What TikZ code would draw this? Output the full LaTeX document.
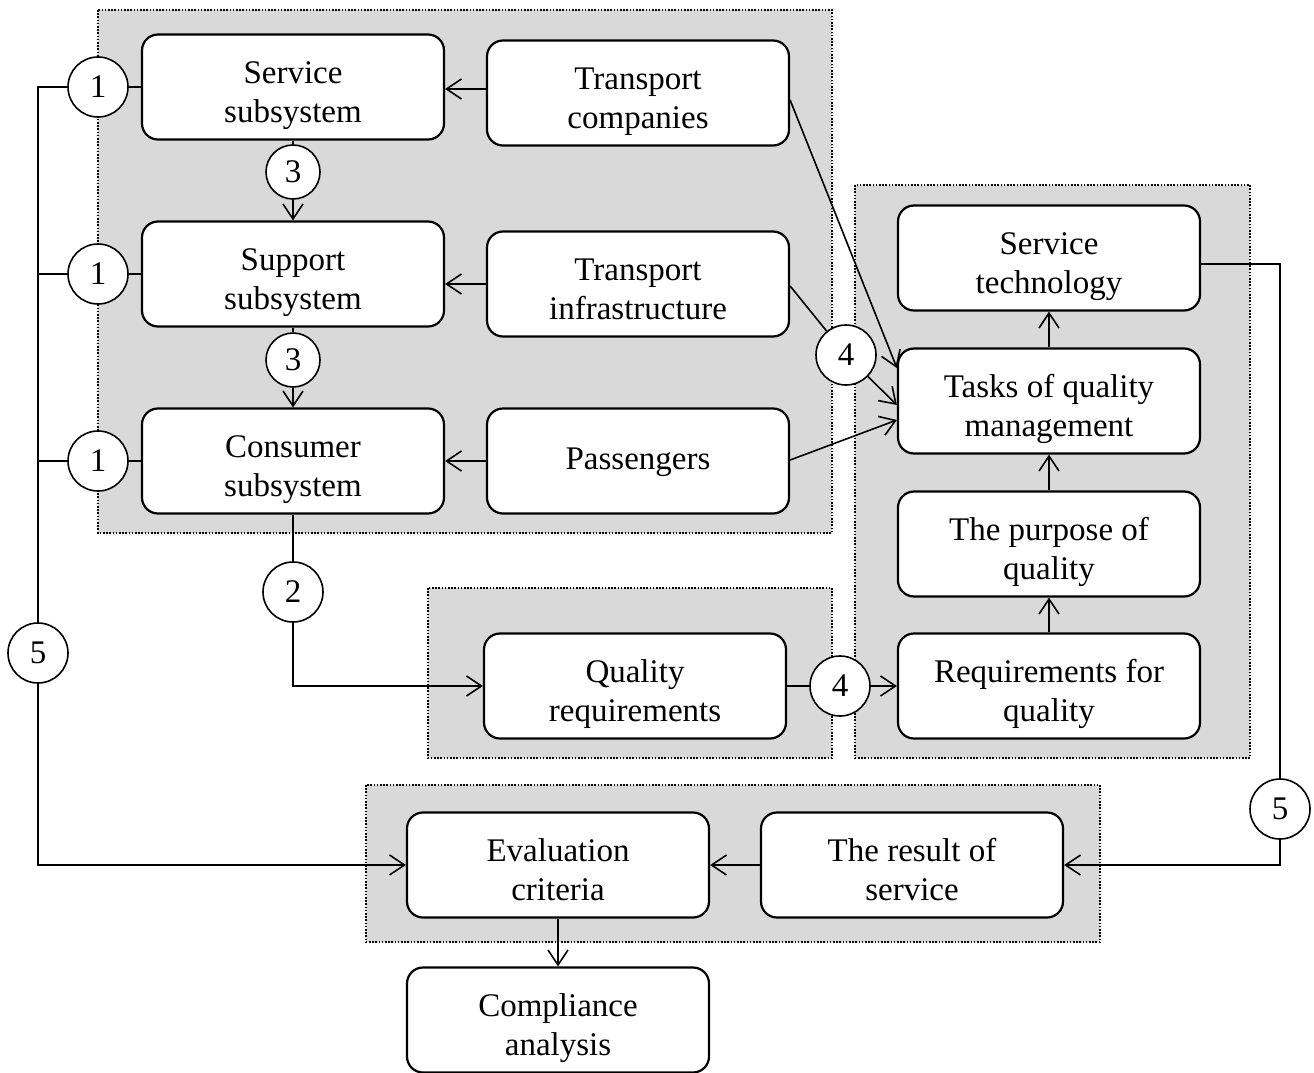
\documentclass[tikz,border=0pt]{standalone}
\usepackage{fontspec}
\setmainfont{Liberation Serif}
\usetikzlibrary{arrows.meta}
\definecolor{grp}{HTML}{D9D9D9}
\newcommand{\tw}[2]{\rule{0pt}{43pt}#1\\#2\rule[-12pt]{0pt}{12pt}}
\newcommand{\on}[1]{\rule[-6pt]{0pt}{30pt}#1}
\begin{document}
\begin{tikzpicture}[x=1pt,y=-1pt,
 grpbox/.style={fill=grp, draw=black, line width=1.6pt, dash pattern=on 1.6pt off 1.6pt},
 box/.style={draw, fill=white, line width=2.2pt, rounded corners=16pt, minimum width=302pt, minimum height=105pt, inner sep=0pt, align=center, font=\fontsize{33}{39}\selectfont},
 num/.style={circle, draw, fill=white, line width=1.6pt, minimum size=60pt, inner sep=0pt, font=\fontsize{33}{39}\selectfont},
 line/.style={line width=1.6pt},
 arr/.style={line width=1.6pt, -{Straight Barb[length=15pt,width=20pt]}},
]
\useasboundingbox (0,0) rectangle (1314,1073);
% groups
\path[grpbox] (98,10) rectangle (832,533);
\path[grpbox] (855,185) rectangle (1250,758);
\path[grpbox] (428,588) rectangle (832,758);
\path[grpbox] (366,785) rectangle (1100,942);
% boxes
\node[box] (ss) at (293,87) {\tw{Service}{subsystem}};
\node[box] (sup) at (293,274) {\tw{Support}{subsystem}};
\node[box] (cons) at (293,461) {\tw{Consumer}{subsystem}};
\node[box] (tc) at (638,93) {\tw{Transport}{companies}};
\node[box] (ti) at (638,284) {\tw{Transport}{infrastructure}};
\node[box] (pas) at (638,461) {\on{Passengers}};
\node[box] (st) at (1049,258) {\tw{Service}{technology}};
\node[box] (tq) at (1049,401) {\tw{Tasks of quality}{management}};
\node[box] (pq) at (1049,544) {\tw{The purpose of}{quality}};
\node[box] (rq) at (1049,686) {\tw{Requirements for}{quality}};
\node[box] (qr) at (635,686) {\tw{Quality}{requirements}};
\node[box] (ec) at (558,865) {\tw{Evaluation}{criteria}};
\node[box] (rs) at (912,865) {\tw{The result of}{service}};
\node[box] (ca) at (558,1020) {\tw{Compliance}{analysis}};
% circles
\node[num] (c1a) at (98,87) {1};
\node[num] (c1b) at (98,274) {1};
\node[num] (c1c) at (98,461) {1};
\node[num, minimum size=54pt] (c3a) at (293,172) {3};
\node[num, minimum size=54pt] (c3b) at (293,360) {3};
\node[num] (c4a) at (846,355) {4};
\node[num] (c4b) at (840,686) {4};
\node[num] (c2) at (293,592) {2};
\node[num] (c5l) at (38,653) {5};
\node[num] (c5r) at (1280,809) {5};
% coordinates
\coordinate (tl) at (38,87);
\coordinate (bl) at (38,865);
\coordinate (tr) at (1280,264);
\coordinate (br) at (1280,865);
\coordinate (qc) at (293,686);
% connectors
\draw[line] (c1a.west) -- (tl) -- (c5l.north);
\draw[line] (c1b.west) -- (c1b.west -| tl);
\draw[line] (c1c.west) -- (c1c.west -| tl);
\draw[arr] (c5l.south) -- (bl) -- (ec.west);
\draw[line] (c1a.east) -- (ss.west);
\draw[line] (c1b.east) -- (sup.west);
\draw[line] (c1c.east) -- (cons.west);
\draw[line] (ss.south) -- (c3a.north);
\draw[arr] (c3a.south) -- (sup.north);
\draw[line] (sup.south) -- (c3b.north);
\draw[arr] (c3b.south) -- (cons.north);
\draw[arr] (tc.west |- 0,89) -- (ss.east |- 0,89);
\draw[arr] (ti.west) -- (ti.west -| sup.east);
\draw[arr] (pas.west) -- (cons.east);
\draw[arr] ([yshift=-7pt]tc.east) -- ([yshift=33pt]tq.west);
\draw[line] ([yshift=-2pt]ti.east) -- (c4a);
\draw[arr] (c4a) -- ([yshift=-4pt]tq.west);
\draw[arr] ([yshift=1pt]pas.east) -- ([yshift=-19pt]tq.west);
\draw[line] (cons.south) -- (c2);
\draw[arr] (c2.south) -- (qc) -- (qr.west);
\draw[line] (qr.east) -- (c4b.west);
\draw[arr] (c4b.east) -- (rq.west);
\draw[arr] (rq.north) -- (pq.south);
\draw[arr] (pq.north) -- (tq.south);
\draw[arr] (tq.north) -- (st.south);
\draw[line] ([yshift=-6pt]st.east) -- (tr) -- (c5r.north);
\draw[arr] (c5r.south) -- (br) -- (rs.east);
\draw[arr] (rs.west) -- (ec.east);
\draw[arr] (ec.south) -- (ca.north);
\end{tikzpicture}
\end{document}
